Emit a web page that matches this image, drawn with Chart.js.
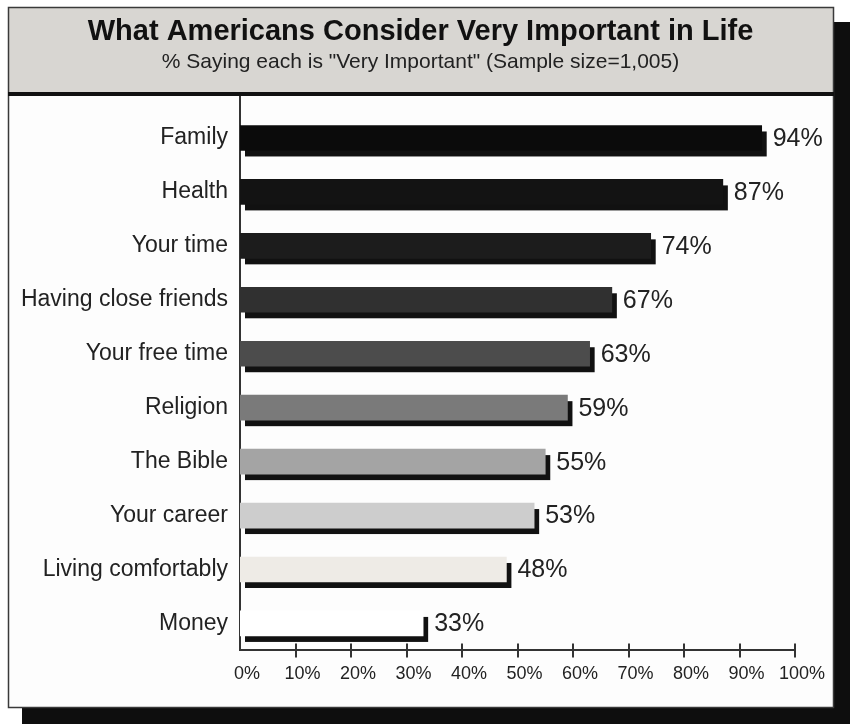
<!DOCTYPE html>
<html>
<head>
<meta charset="utf-8">
<title>What Americans Consider Very Important in Life</title>
<script src="https://cdn.jsdelivr.net/npm/chart.js@4.4.0/dist/chart.umd.min.js"></script>
<style>
  html, body { margin: 0; padding: 0; background: #fff; }
  #wrap { width: 850px; height: 724px; }
</style>
</head>
<body>
<div id="wrap"><canvas id="chart" width="850" height="724"></canvas></div>
<script>
// Data
const categories = [
    'Family', 'Health', 'Your time', 'Having close friends', 'Your free time',
    'Religion', 'The Bible', 'Your career', 'Living comfortably', 'Money'
];
const values = [94, 87, 74, 67, 63, 59, 55, 53, 48, 33];
const barColors = [
    '#0b0b0b', '#131313', '#1c1c1c', '#303030', '#4c4c4c',
    '#7a7a7a', '#a4a4a4', '#cdcdcd', '#eeebe6', '#ffffff'
];
const tickValues = [0, 10, 20, 30, 40, 50, 60, 70, 80, 90, 100];

const TITLE = 'What Americans Consider Very Important in Life';
const SUBTITLE = '% Saying each is "Very Important" (Sample size=1,005)';
const FONT = "'Liberation Sans', Arial, Helvetica, sans-serif";
const INK = '#222';

// Box, header and drop shadow behind everything
const framePlugin = {
    id: 'frame',
    afterLayout(chart) {
        // centre the title lines on the box, not on the padded chart
        chart.boxes.forEach(b => {
            if (b === chart.titleBlock || (b.options && b.options.text === SUBTITLE)) {
                b.left += 18;
                b.right += 18;
            }
        });
    },
    beforeDraw(chart) {
        const ctx = chart.ctx;
        ctx.save();
        ctx.fillStyle = '#fff';
        ctx.fillRect(0, 0, chart.width, chart.height);
        ctx.fillStyle = '#0e0e0e';
        ctx.fillRect(22, 22, chart.width - 22, chart.height - 22);
        ctx.fillStyle = '#fdfdfd';
        ctx.fillRect(8, 7, 826, 701);
        ctx.fillStyle = '#d8d6d2';
        ctx.fillRect(8, 7, 826, 86);
        ctx.strokeStyle = '#3a3a3a';
        ctx.lineWidth = 1.5;
        ctx.strokeRect(8.5, 7.5, 825, 700);
        ctx.fillStyle = '#111';
        ctx.fillRect(8, 92, 826, 4);
        ctx.restore();
    }
};

// Dark offset shadow under each bar, taken from the bar elements
const shadowPlugin = {
    id: 'barShadow',
    beforeDatasetsDraw(chart) {
        const ctx = chart.ctx;
        const meta = chart.getDatasetMeta(0);
        ctx.save();
        ctx.fillStyle = '#111';
        meta.data.forEach(bar => {
            const p = bar.getProps(['x', 'y', 'base', 'height'], true);
            ctx.fillRect(p.base + 5, p.y - p.height / 2 + 6, p.x - p.base, p.height);
        });
        ctx.restore();
    },
    afterDatasetsDraw(chart) {
        const ctx = chart.ctx;
        const meta = chart.getDatasetMeta(0);
        ctx.save();
        ctx.fillStyle = INK;
        ctx.font = '25px ' + FONT;
        ctx.textAlign = 'left';
        ctx.textBaseline = 'middle';
        meta.data.forEach((bar, i) => {
            ctx.fillText(values[i] + '%', bar.x + 11, bar.y + 1);
        });
        ctx.restore();
    }
};

// Tick marks that cross the x axis, and the y axis running up to the header
const axisPlugin = {
    id: 'axisMarks',
    afterDraw(chart) {
        const ctx = chart.ctx;
        const x = chart.scales.x;
        const area = chart.chartArea;
        ctx.save();
        ctx.strokeStyle = '#333';
        ctx.lineWidth = 2;
        ctx.beginPath();
        tickValues.forEach(v => {
            if (v === 0) return;
            const px = Math.round(x.getPixelForValue(v));
            ctx.moveTo(px, area.bottom - 7);
            ctx.lineTo(px, area.bottom + 7);
        });
        ctx.moveTo(area.left, 96);
        ctx.lineTo(area.left, area.top);
        ctx.stroke();
        ctx.restore();
    }
};

new Chart(document.getElementById('chart'), {
    type: 'bar',
    data: {
        labels: categories,
        datasets: [{
            data: values,
            backgroundColor: barColors,
            borderWidth: 0,
            barThickness: 25
        }]
    },
    options: {
        indexAxis: 'y',
        responsive: false,
        animation: false,
        layout: { padding: { left: 10, right: 55, top: 0, bottom: 26 } },
        plugins: {
            legend: { display: false },
            tooltip: { enabled: false },
            title: {
                display: true,
                text: TITLE,
                color: '#111',
                font: { family: FONT, size: 29, weight: 'bold' },
                padding: { top: 15, bottom: 0 }
            },
            subtitle: {
                display: true,
                text: SUBTITLE,
                color: INK,
                font: { family: FONT, size: 21 },
                padding: { top: 0, bottom: 36 }
            }
        },
        scales: {
            x: {
                min: 0,
                max: 100,
                afterBuildTicks: scale => {
                    scale.ticks = tickValues.map(v => ({ value: v }));
                },
                grid: { display: false, drawTicks: false },
                border: { display: true, color: '#333', width: 2 },
                ticks: {
                    color: INK,
                    font: { family: FONT, size: 18 },
                    padding: 13,
                    labelOffset: 7,
                    maxRotation: 0,
                    callback: v => v + '%'
                }
            },
            y: {
                afterFit: scale => { scale.width = 230; },
                grid: { display: false, drawTicks: false },
                border: { display: true, color: '#333', width: 2 },
                ticks: {
                    color: INK,
                    font: { family: FONT, size: 23 },
                    padding: 12
                }
            }
        }
    },
    plugins: [framePlugin, shadowPlugin, axisPlugin]
});
</script>
</body>
</html>
